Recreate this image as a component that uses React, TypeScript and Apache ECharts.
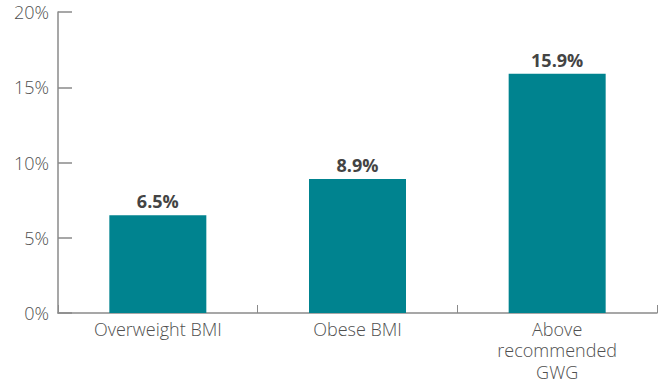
import React, { useEffect, useRef } from "react";
import * as echarts from "echarts";

const categories = ["Overweight BMI", "Obese BMI", "Above\nrecommended\nGWG"];
const values = [6.5, 8.9, 15.9];
const yTicks = [0, 5, 10, 15, 20];

export default function App() {
  const ref = useRef<HTMLDivElement>(null);
  useEffect(() => {
    if (!ref.current) return;
    const chart = echarts.init(ref.current, null, { renderer: "svg" });
    const font = "'Open Sans', sans-serif";
    chart.setOption({
      animation: false,
      grid: { left: 58, right: 8, top: 12, bottom: 74, containLabel: false },
      xAxis: {
        type: "category",
        data: categories,
        axisLine: { lineStyle: { color: "#8a8a8a", width: 1.5 } },
        axisTick: { show: true, inside: true, length: 8, alignWithLabel: false, lineStyle: { color: "#8a8a8a" } },
        axisLabel: { color: "#505050", fontSize: 18, fontWeight: 300, fontFamily: font, margin: 5, lineHeight: 21.5, interval: 0 },
      },
      yAxis: {
        type: "value",
        min: yTicks[0],
        max: yTicks[yTicks.length - 1],
        interval: 5,
        splitLine: { show: false },
        axisLine: { show: true, lineStyle: { color: "#8a8a8a", width: 1.5 } },
        axisTick: { show: true, inside: true, length: 14, lineStyle: { color: "#8a8a8a", width: 1.5 } },
        axisLabel: { color: "#505050", fontSize: 18, fontWeight: 300, fontFamily: font, margin: 9, formatter: "{value}%" },
      },
      series: [
        {
          type: "bar",
          data: values,
          barWidth: 97,
          itemStyle: { color: "#00838F" },
          label: {
            show: true,
            position: "top",
            distance: 5,
            formatter: (p: any) => p.value.toFixed(1) + "%",
            color: "#444",
            fontSize: 18,
            fontWeight: "bold",
            fontFamily: font,
          },
        },
      ],
    });
    return () => chart.dispose();
  }, []);
  return <div ref={ref} style={{ width: 665, height: 387, position: "absolute", left: 0, top: 0 }} />;
}
